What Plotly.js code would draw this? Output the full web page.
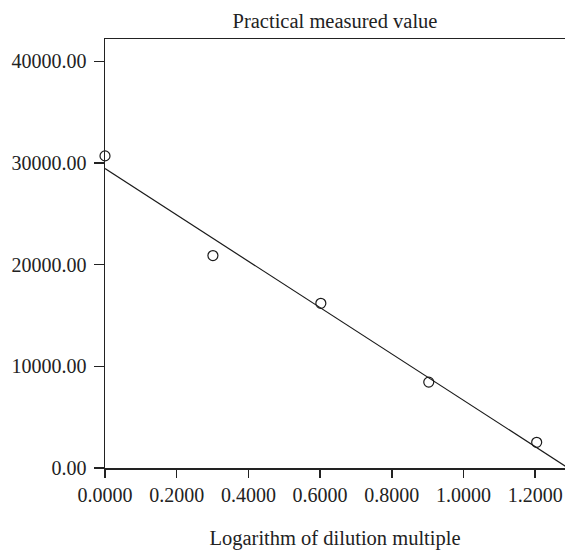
<!DOCTYPE html>
<html>
<head>
<meta charset="utf-8">
<script src="https://cdn.plot.ly/plotly-3.0.1.min.js"></script>
<style>html,body{margin:0;padding:0;background:#fff;}#chart{width:565px;height:550px;}</style>
</head>
<body>
<div id="chart"></div>
<script>
// Measured points
const logDilution = [0.0, 0.301, 0.602, 0.903, 1.204];
const measuredValue = [30700, 20900, 16200, 8450, 2530];
// Fitted straight line
const fitX = [0.0, 1.292];
const fitY = [29450, 0];
// Tick labels
const xTickVals = [0, 0.2, 0.4, 0.6, 0.8, 1.0, 1.2];
const xTickText = ["0.0000", "0.2000", "0.4000", "0.6000", "0.8000", "1.0000", "1.2000"];
const yTickVals = [0, 10000, 20000, 30000, 40000];
const yTickText = ["0.00", "10000.00", "20000.00", "30000.00", "40000.00"];

const fontFam = '"Liberation Serif", "DejaVu Serif", serif';

const traces = [
  {
    x: fitX, y: fitY, mode: 'lines', type: 'scatter',
    line: {color: '#1a1a1a', width: 1.2}, hoverinfo: 'skip', cliponaxis: true
  },
  {
    x: logDilution, y: measuredValue, mode: 'markers', type: 'scatter',
    marker: {symbol: 'circle-open', size: 10, color: '#1a1a1a', line: {width: 1.2, color: '#1a1a1a'}},
    cliponaxis: false
  }
];

const layout = {
  width: 565, height: 550,
  margin: {l: 105, r: 0, t: 39, b: 82},
  paper_bgcolor: '#fff', plot_bgcolor: '#fff',
  showlegend: false,
  font: {family: fontFam, size: 20, color: '#222'},
  title: {text: 'Practical measured value', x: 0.5, xref: 'paper', y: 0.962, yref: 'container', yanchor: 'middle',
          font: {family: fontFam, size: 20.5, color: '#222'}},
  xaxis: {
    range: [0, 1.283], tickvals: xTickVals, ticktext: xTickText,
    showgrid: false, zeroline: false, showline: true, linecolor: '#222', linewidth: 1.5,
    mirror: true, ticks: 'outside', ticklen: 8, tickcolor: '#222', tickwidth: 1.5,
    tickfont: {family: fontFam, size: 20, color: '#222'},
    title: {text: 'Logarithm of dilution multiple', standoff: 30, font: {family: fontFam, size: 20.5, color: '#222'}}
  },
  yaxis: {
    range: [0, 42200], tickvals: yTickVals, ticktext: yTickText,
    showgrid: false, zeroline: false, showline: true, linecolor: '#222', linewidth: 1.5,
    mirror: false, ticks: 'outside', ticklen: 10, tickcolor: '#222', tickwidth: 1.5,
    ticklabelstandoff: 3,
    tickfont: {family: fontFam, size: 20, color: '#222'}
  }
};

Plotly.newPlot('chart', traces, layout, {displayModeBar: false, staticPlot: true});
</script>
</body>
</html>
